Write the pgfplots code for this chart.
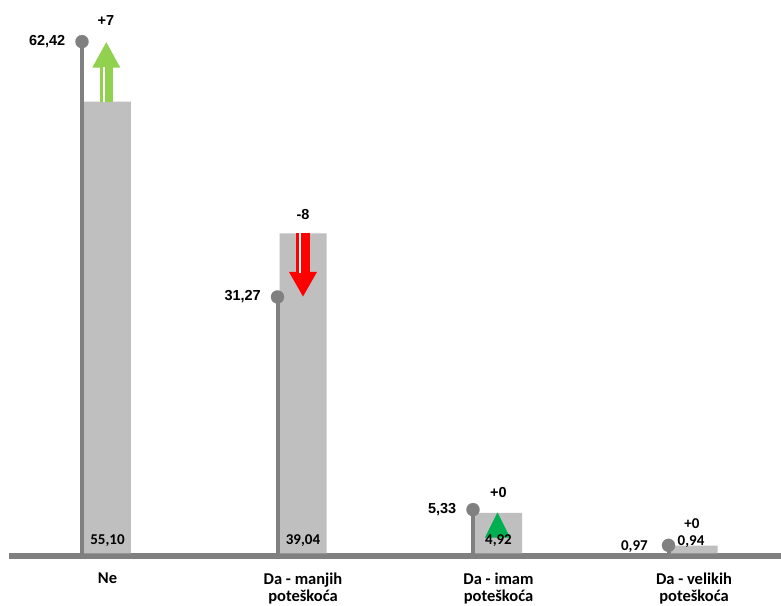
\documentclass[border=0pt]{standalone}
\usepackage{pgfplots}
\pgfplotsset{compat=1.18}
\usepackage{pgfplotstable}
\usepackage{fontspec}
\setmainfont{Liberation Sans}
\newfontfamily\carlito{Carlito}
\usetikzlibrary{arrows.meta}
\definecolor{bargray}{HTML}{BFBFBF}
\definecolor{stemgray}{HTML}{808080}
\definecolor{lgreen}{HTML}{92D050}
\definecolor{dgreen}{HTML}{00B050}
\definecolor{ared}{HTML}{FF0000}
\newcommand\lab{\fontsize{14.5bp}{16bp}\selectfont\bfseries}
\newcommand\catf{\carlito\fontsize{16.5bp}{17.8bp}\selectfont\bfseries}
\newcommand\bv{\carlito\fontsize{15bp}{17bp}\selectfont\bfseries}
\pgfplotstableread{
x bar lol
0 55.10 62.42
1 39.04 31.27
2 4.92 5.33
3 0.94 0.97
}\datatable
\begin{document}
\begin{tikzpicture}
\path[use as bounding box] (0,0) rectangle (781bp,606bp);
\begin{axis}[
  at={(9bp,52.7bp)}, anchor=south west,
  scale only axis, width=772bp, height=553.3bp,
  xmin=-0.5038, xmax=3.445, ymin=0, ymax=67.5,
  axis x line*=bottom, axis y line=none,
  x axis line style={line width=5.5bp, stemgray, yshift=-2.5bp},
  xtick=\empty, ytick=\empty,
  clip=false,
]
% bars (previous values)
\addplot[ybar, bar width=47bp, fill=bargray, draw=none] table[x=x,y=bar]{\datatable};
% lollipops (current values)
\addplot[ycomb, line width=4bp, stemgray, mark=*, mark size=6.6bp,
  mark options={fill=stemgray, draw=stemgray, line width=0.1pt}, xshift=-25.5bp]
  table[x=x,y=lol]{\datatable};
% green arrow
\addplot[quiver={u=0, v=\thisrow{d}}, lgreen, line width=13.5bp,
  -{Triangle[width=26bp,length=26bp]}, xshift=-1.2bp, no markers]
  table[row sep=\\]{x y d\\ 0 55.10 7.32\\};
\addplot[quiver={u=0, v=\thisrow{d}}, white, line width=2.3bp,
  shorten >=25bp, xshift=-3.7bp, no markers]
  table[row sep=\\]{x y d\\ 0 55.10 7.32\\};
% red arrow
\addplot[quiver={u=0, v=\thisrow{d}}, ared, line width=13.3bp,
  -{Triangle[width=26bp,length=25bp]}, no markers]
  table[row sep=\\]{x y d\\ 1 39.04 -7.77\\};
\addplot[quiver={u=0, v=\thisrow{d}}, white, line width=2.3bp,
  shorten >=24bp, xshift=-2.9bp, no markers]
  table[row sep=\\]{x y d\\ 1 39.04 -7.77\\};
% small green triangle
\addplot[quiver={u=0, v=\thisrow{d}}, dgreen, line width=0.1bp,
  -{Triangle[width=25bp,length=25bp]}, xshift=-1bp, yshift=-3bp, no markers]
  table[row sep=\\]{x y d\\ 2 4.92 0.41\\};
% lollipop labels
\node[anchor=east, font=\lab, inner sep=0pt, xshift=-42bp] at (axis cs:0,62.42) {62,42};
\node[anchor=east, font=\lab, inner sep=0pt, xshift=-42bp] at (axis cs:1,31.27) {31,27};
\node[anchor=east, font=\lab, inner sep=0pt, xshift=-42bp] at (axis cs:2,5.33) {5,33};
\node[anchor=east, font=\bv, inner sep=0pt, xshift=-46bp, yshift=-1bp] at (axis cs:3,0.97) {0,97};
% difference labels
\node[font=\lab, inner sep=0pt, yshift=21bp, xshift=-1.5bp] at (axis cs:0,62.42) {+7};
\node[font=\lab, inner sep=0pt, yshift=18.5bp] at (axis cs:1,39.04) {-8};
\node[font=\lab, inner sep=0pt, yshift=17bp] at (axis cs:2,5.33) {+0};
\node[font=\bv, inner sep=0pt, yshift=21.5bp, xshift=-2bp] at (axis cs:3,0.97) {+0};
% bar value labels
\node[font=\bv, inner sep=0pt, yshift=12.6bp] at (axis cs:0,0) {55,10};
\node[font=\bv, inner sep=0pt, yshift=12.6bp] at (axis cs:1,0) {39,04};
\node[font=\bv, inner sep=0pt, yshift=12.6bp] at (axis cs:2,0) {4,92};
\node[font=\bv, inner sep=0pt, yshift=12bp, xshift=-3bp] at (axis cs:3,0) {0,94};
% category labels
\node[anchor=north, align=center, font=\catf, inner sep=0pt, yshift=-19bp] at (axis cs:0,0) {Ne};
\node[anchor=north, align=center, font=\catf, inner sep=0pt, yshift=-19bp] at (axis cs:1,0) {Da - manjih\\poteškoća};
\node[anchor=north, align=center, font=\catf, inner sep=0pt, yshift=-19bp] at (axis cs:2,0) {Da - imam\\poteškoća};
\node[anchor=north, align=center, font=\catf, inner sep=0pt, yshift=-19bp] at (axis cs:3,0) {Da - velikih\\poteškoća};
\end{axis}
\end{tikzpicture}
\end{document}
